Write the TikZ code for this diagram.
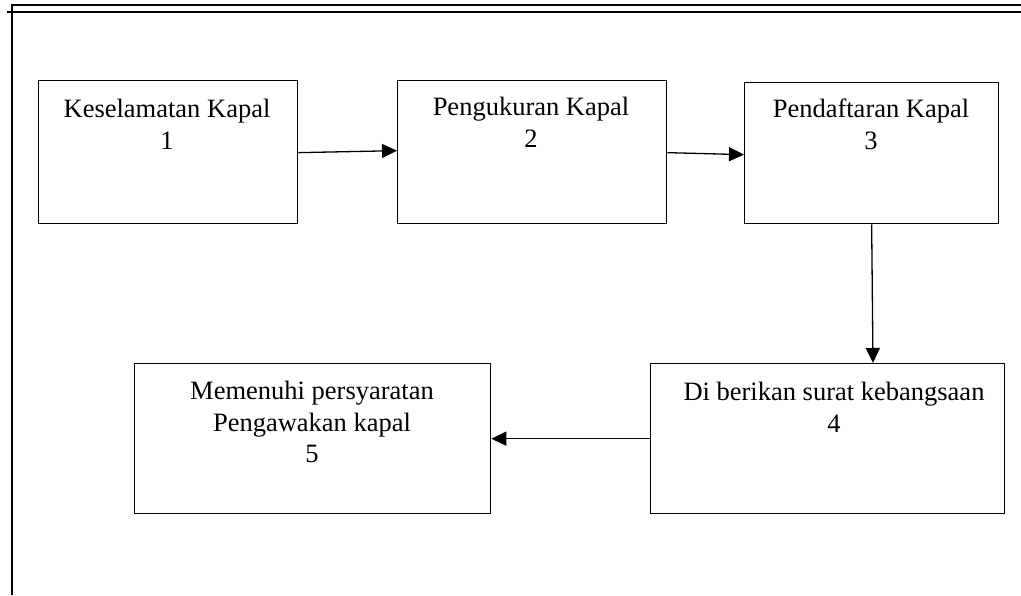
\documentclass[tikz,border=0pt]{standalone}
\usepackage{fontspec}
\setmainfont{Liberation Serif}
\usetikzlibrary{arrows.meta,calc}
\begin{document}
\begin{tikzpicture}[x=1pt,y=-1pt,
  box/.style={draw,line width=1.3pt,rectangle,inner sep=0pt,anchor=north west},
  lbl/.style={font=\fontsize{26.5}{31.5}\selectfont,align=center,inner sep=0pt,anchor=north},
  conn/.style={line width=1.3pt,-{Triangle[length=15pt,width=14pt]}},
  rulel/.style={line width=1.6pt}]
\useasboundingbox (0,0) rectangle (1021,595);
% page border lines
\coordinate (ta) at (11,5);
\coordinate (tb) at (1021,5);
\coordinate (tc) at (7,12);
\coordinate (td) at (1021,12);
\coordinate (la) at (12,5);
\coordinate (lb) at (12,595);
\draw[rulel] (ta) -- (tb);
\draw[rulel] (tc) -- (td);
\draw[rulel] (la) -- (lb);
% boxes
\node[box,minimum width=259pt,minimum height=143pt] (b1) at (38,80) {};
\node[box,minimum width=269pt,minimum height=143pt] (b2) at (397,80) {};
\node[box,minimum width=254pt,minimum height=141pt] (b3) at (744,82) {};
\node[box,minimum width=354pt,minimum height=150pt] (b4) at (650,363) {};
\node[box,minimum width=356pt,minimum height=150pt] (b5) at (134,363) {};
% labels
\node[lbl] (t1) at (167,99) {Keselamatan Kapal\\1};
\node[lbl] (t2) at (531,97) {Pengukuran Kapal\\2};
\node[lbl] (t3) at (871,99) {Pendaftaran Kapal\\3};
\node[lbl] (t4) at (834,382) {Di berikan surat kebangsaan\\4};
\node[lbl] (t5) at (312,381) {Memenuhi persyaratan\\Pengawakan kapal\\5};
% connectors
\draw[conn] ($(b1.east)+(0,0.5)$) -- ($(b2.west)+(0,-1.5)$);
\draw[conn] ($(b2.east)+(0,0.5)$) -- ($(b3.west)+(0,1.5)$);
\draw[conn] (b3.south) -- ($(b4.north west)+(223,0)$);
\draw[conn] (b4.west) -- (b5.east);
\end{tikzpicture}
\end{document}
